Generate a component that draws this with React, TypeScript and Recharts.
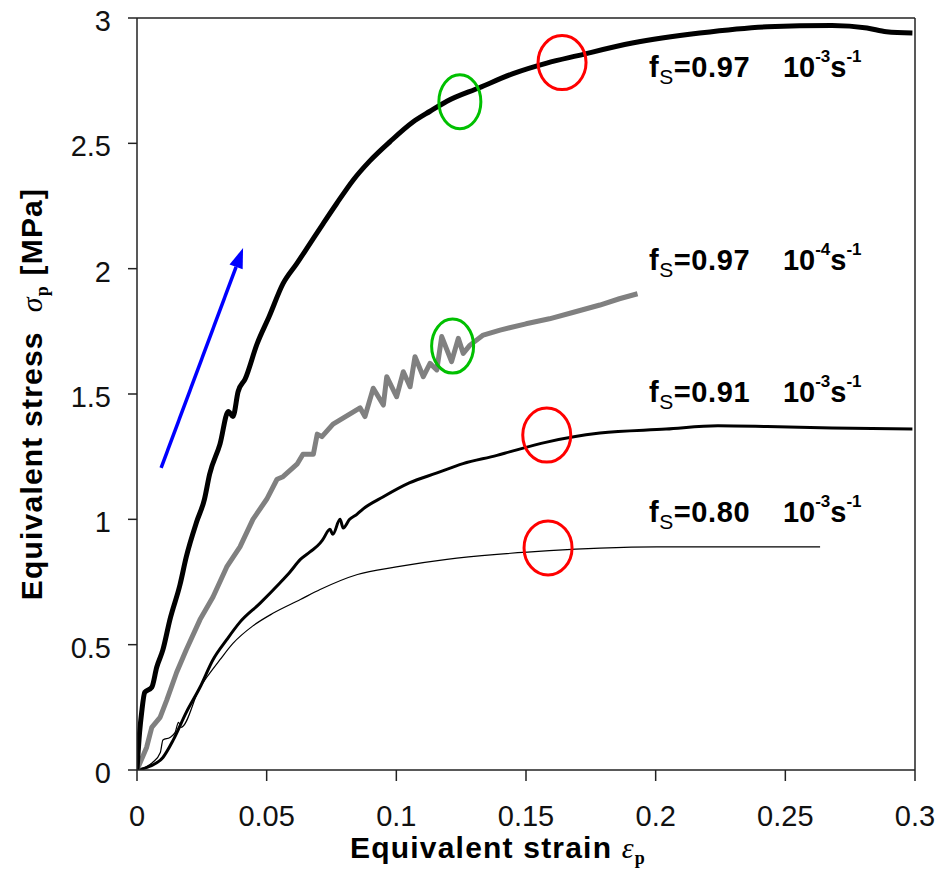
import { LineChart, Line, XAxis, YAxis, ReferenceLine, ReferenceDot } from 'recharts'

const FONT = '"Liberation Sans", Arial, sans-serif'
const SERIF = '"Liberation Serif", "Times New Roman", serif'

const strainTicks = [0, 0.05, 0.1, 0.15, 0.2, 0.25, 0.3]
const stressTicks = [0, 0.5, 1, 1.5, 2, 2.5, 3]

// fS = 0.97, 10^-3 s^-1 (thick black)
const strain097Fast = [
  0, 0.001, 0.0018, 0.003, 0.0057, 0.0076, 0.01, 0.0127, 0.0166, 0.019, 0.023, 0.026, 0.028, 0.032,
  0.0352, 0.037, 0.039, 0.0417, 0.0463, 0.051, 0.0563, 0.0616, 0.0667, 0.0718, 0.077, 0.0834, 0.0898,
  0.0976, 0.1064, 0.113, 0.1195, 0.132, 0.145, 0.158, 0.17, 0.191, 0.217, 0.243, 0.268, 0.2815, 0.289,
  0.299,
]
const stress097Fast = [
  0, 0.15, 0.23, 0.31, 0.33, 0.41, 0.48, 0.6, 0.74, 0.85, 0.99, 1.08, 1.18, 1.3,
  1.43, 1.41, 1.51, 1.56, 1.7, 1.81, 1.94, 2.02, 2.1, 2.18, 2.26, 2.354, 2.43,
  2.507, 2.585, 2.628, 2.668, 2.722, 2.778, 2.82, 2.85, 2.9, 2.94, 2.965, 2.97, 2.96, 2.945,
  2.94,
]

// fS = 0.97, 10^-4 s^-1 (grey)
const strain097Slow = [
  0, 0.0037, 0.0057, 0.0089, 0.0115, 0.0153, 0.019, 0.0243, 0.0293, 0.0346, 0.0397, 0.0447, 0.05,
  0.054, 0.0563, 0.0617, 0.064, 0.068, 0.0695, 0.0713, 0.0756, 0.082, 0.086, 0.0879, 0.0911, 0.095,
  0.0963, 0.1001, 0.1027, 0.1053, 0.1072, 0.1104, 0.113, 0.1156, 0.1175, 0.1213, 0.1239, 0.1258,
  0.1284, 0.1335, 0.14, 0.15, 0.159, 0.168, 0.1785, 0.186, 0.193,
]
const stress097Slow = [
  0, 0.09, 0.17, 0.21, 0.28, 0.39, 0.48, 0.6, 0.69, 0.81, 0.89, 1.0, 1.08,
  1.16, 1.17, 1.22, 1.26, 1.26, 1.34, 1.33, 1.38, 1.42, 1.445, 1.41, 1.523, 1.456,
  1.569, 1.489, 1.589, 1.529, 1.649, 1.569, 1.622, 1.596, 1.729, 1.629, 1.722, 1.662,
  1.695, 1.735, 1.755, 1.78, 1.8, 1.825, 1.855, 1.88, 1.9,
]

// fS = 0.91, 10^-3 s^-1 (medium black)
const strain091 = [
  0, 0.005, 0.01, 0.014, 0.019, 0.0243, 0.0293, 0.0346, 0.0397, 0.0474, 0.055, 0.059, 0.063, 0.0667,
  0.0706, 0.0717, 0.0744, 0.0755, 0.0783, 0.0795, 0.082, 0.0848, 0.087, 0.095, 0.105, 0.1157, 0.1257,
  0.1388, 0.144, 0.158, 0.1785, 0.204, 0.224, 0.243, 0.268, 0.299,
]
const stress091 = [
  0, 0.015, 0.05, 0.12, 0.23, 0.33, 0.44, 0.52, 0.59, 0.665, 0.745, 0.79, 0.84, 0.87,
  0.905, 0.92, 0.96, 0.94, 1.0, 0.965, 1.0, 1.02, 1.04, 1.09, 1.145, 1.185, 1.222,
  1.255, 1.27, 1.308, 1.344, 1.36, 1.373, 1.37, 1.364, 1.36,
]

// fS = 0.80, 10^-3 s^-1 (thin black)
const strain080 = [
  0, 0.006, 0.009, 0.01, 0.0127, 0.0147, 0.016, 0.017, 0.0243, 0.0269, 0.032, 0.037, 0.0447, 0.0524,
  0.063, 0.0706, 0.085, 0.1, 0.1195, 0.1388, 0.159, 0.1785, 0.2005, 0.23, 0.2634,
]
const stress080 = [
  0, 0.03, 0.07, 0.12, 0.13, 0.15, 0.19, 0.17, 0.33, 0.37, 0.44, 0.505, 0.575, 0.625,
  0.68, 0.72, 0.78, 0.81, 0.84, 0.86, 0.875, 0.885, 0.89, 0.89, 0.89,
]

// annotations
const labelStrain = 0.1974
const labelStress = [2.765, 1.995, 1.469, 0.991]
const labelFraction = ['0.97', '0.97', '0.91', '0.80']
const labelExponent = ['-3', '-4', '-3', '-3']

const redCircleStrain = [0.1639, 0.158, 0.1585]
const redCircleStress = [2.822, 1.336, 0.886]
const greenCircleStrain = [0.1245, 0.1217]
const greenCircleStress = [2.666, 1.691]

const arrowStrain = [0.0093, 0.0409]
const arrowStress = [1.205, 2.082]

const toPoints = (xs: number[], ys: number[]) => xs.map((x, i) => ({ strain: x, stress: ys[i] }))

function YTick({ x, y, payload }: any) {
  return (
    <text x={x} y={y + 13} textAnchor="end" fontFamily={FONT} fontSize={29} fill="#111">
      {payload.value}
    </text>
  )
}

function XTick({ x, y, payload }: any) {
  return (
    <text x={x} y={y + 21} textAnchor="middle" fontFamily={FONT} fontSize={29} fill="#111">
      {payload.value}
    </text>
  )
}

function XTitle({ viewBox }: any) {
  const cx = viewBox.x + viewBox.width / 2 - 28
  return (
    <text
      x={cx}
      y={viewBox.y + 88}
      textAnchor="middle"
      fontFamily={FONT}
      fontSize={30}
      fontWeight="bold"
      letterSpacing={1.2}
      fill="#000"
    >
      Equivalent strain{' '}
      <tspan fontFamily={SERIF} fontStyle="italic" fontWeight="normal">ε</tspan>
      <tspan dy={6} fontFamily={SERIF} fontSize={18}>p</tspan>
    </text>
  )
}

function YTitle({ viewBox }: any) {
  const cy = viewBox.y + viewBox.height / 2
  const bx = 42
  return (
    <text
      x={bx}
      y={cy}
      transform={`rotate(-90, ${bx}, ${cy})`}
      textAnchor="middle"
      fontFamily={FONT}
      fontSize={30}
      fontWeight="bold"
      letterSpacing={1.2}
      fill="#000"
    >
      Equivalent stress{'\u00a0\u00a0'}
      <tspan fontFamily={SERIF} fontStyle="italic" fontWeight="normal">σ</tspan>
      <tspan dy={6} fontFamily={SERIF} fontSize={18}>p</tspan>
      <tspan dy={-6}> [MPa]</tspan>
    </text>
  )
}

function RateLabel({ cx, cy, fraction, exponent }: any) {
  return (
    <g fontFamily={FONT} fill="#000">
      <text x={cx} y={cy} fontSize={29} fontWeight="bold" letterSpacing={0.6}>
        f<tspan dy={7} fontSize={21} fontWeight="normal">S</tspan>
        <tspan dy={-7}>={fraction}</tspan>
      </text>
      <text x={cx + 134} y={cy} fontSize={29} fontWeight="bold">
        10<tspan dy={-15} fontSize={17}>{exponent}</tspan>
        <tspan dy={15}>s</tspan>
        <tspan dy={-15} fontSize={17}>-1</tspan>
      </text>
    </g>
  )
}

function ArrowShape({ x1, y1, x2, y2 }: any) {
  const dx = x2 - x1
  const dy = y2 - y1
  const len = Math.sqrt(dx * dx + dy * dy)
  const ux = dx / len
  const uy = dy / len
  const headLen = 20
  const headHalf = 7
  const bx = x2 - ux * headLen
  const by = y2 - uy * headLen
  const pts = `${x2},${y2} ${bx - uy * headHalf},${by + ux * headHalf} ${bx + uy * headHalf},${by - ux * headHalf}`
  return (
    <g>
      <line x1={x1} y1={y1} x2={bx} y2={by} stroke="#0000ff" strokeWidth={3.5} />
      <polygon points={pts} fill="#0000ff" />
    </g>
  )
}

export default function App() {
  return (
    <div style={{ position: 'absolute', left: 0, top: 0, width: 951, height: 873, background: '#fff' }}>
      <LineChart width={951} height={873} margin={{ top: 18, right: 36, bottom: 0, left: 0 }}>
        <XAxis
          type="number"
          dataKey="strain"
          domain={[0, 0.3]}
          ticks={strainTicks}
          interval={0}
          height={103}
          tickSize={11}
          tickMargin={24}
          axisLine={{ stroke: '#222', strokeWidth: 1.5 }}
          tickLine={{ stroke: '#222', strokeWidth: 1.5 }}
          tick={(p: any) => <XTick {...p} />}
          label={<XTitle />}
          allowDataOverflow
        />
        <YAxis
          type="number"
          dataKey="stress"
          domain={[0, 3]}
          ticks={stressTicks}
          interval={0}
          width={137}
          tickSize={9}
          tickMargin={17}
          axisLine={{ stroke: '#222', strokeWidth: 1.5 }}
          tickLine={{ stroke: '#222', strokeWidth: 1.5 }}
          tick={(p: any) => <YTick {...p} />}
          label={<YTitle />}
          allowDataOverflow
        />
        <ReferenceLine y={3} stroke="#222" strokeWidth={1.5} />
        <ReferenceLine x={0.3} stroke="#222" strokeWidth={1.5} />

        <Line
          data={toPoints(strain080, stress080)}
          dataKey="stress"
          type="monotone"
          stroke="#000"
          strokeWidth={1.2}
          dot={false}
          activeDot={false}
          isAnimationActive={false}
        />
        <Line
          data={toPoints(strain091, stress091)}
          dataKey="stress"
          type="monotone"
          stroke="#000"
          strokeWidth={3}
          strokeLinejoin="round"
          dot={false}
          activeDot={false}
          isAnimationActive={false}
        />
        <Line
          data={toPoints(strain097Slow, stress097Slow)}
          dataKey="stress"
          type="linear"
          stroke="#808080"
          strokeWidth={5}
          strokeLinejoin="round"
          dot={false}
          activeDot={false}
          isAnimationActive={false}
        />
        <Line
          data={toPoints(strain097Fast, stress097Fast)}
          dataKey="stress"
          type="monotone"
          stroke="#000"
          strokeWidth={5}
          strokeLinejoin="round"
          dot={false}
          activeDot={false}
          isAnimationActive={false}
        />

        <ReferenceLine
          segment={[
            { x: arrowStrain[0], y: arrowStress[0] },
            { x: arrowStrain[1], y: arrowStress[1] },
          ]}
          shape={(p: any) => <ArrowShape {...p} />}
        />

        {redCircleStrain.map((x, i) => (
          <ReferenceDot
            key={`red-${i}`}
            x={x}
            y={redCircleStress[i]}
            r={24}
            shape={(p: any) => (
              <ellipse cx={p.cx} cy={p.cy} rx={24} ry={27} fill="none" stroke="#ff0000" strokeWidth={3} />
            )}
          />
        ))}
        {greenCircleStrain.map((x, i) => (
          <ReferenceDot
            key={`green-${i}`}
            x={x}
            y={greenCircleStress[i]}
            r={21}
            shape={(p: any) => (
              <ellipse cx={p.cx} cy={p.cy} rx={21} ry={27} fill="none" stroke="#00c000" strokeWidth={3} />
            )}
          />
        ))}
        {labelStress.map((y, i) => (
          <ReferenceDot
            key={`label-${i}`}
            x={labelStrain}
            y={y}
            r={1}
            shape={(p: any) => (
              <RateLabel cx={p.cx} cy={p.cy} fraction={labelFraction[i]} exponent={labelExponent[i]} />
            )}
          />
        ))}
      </LineChart>
    </div>
  )
}
